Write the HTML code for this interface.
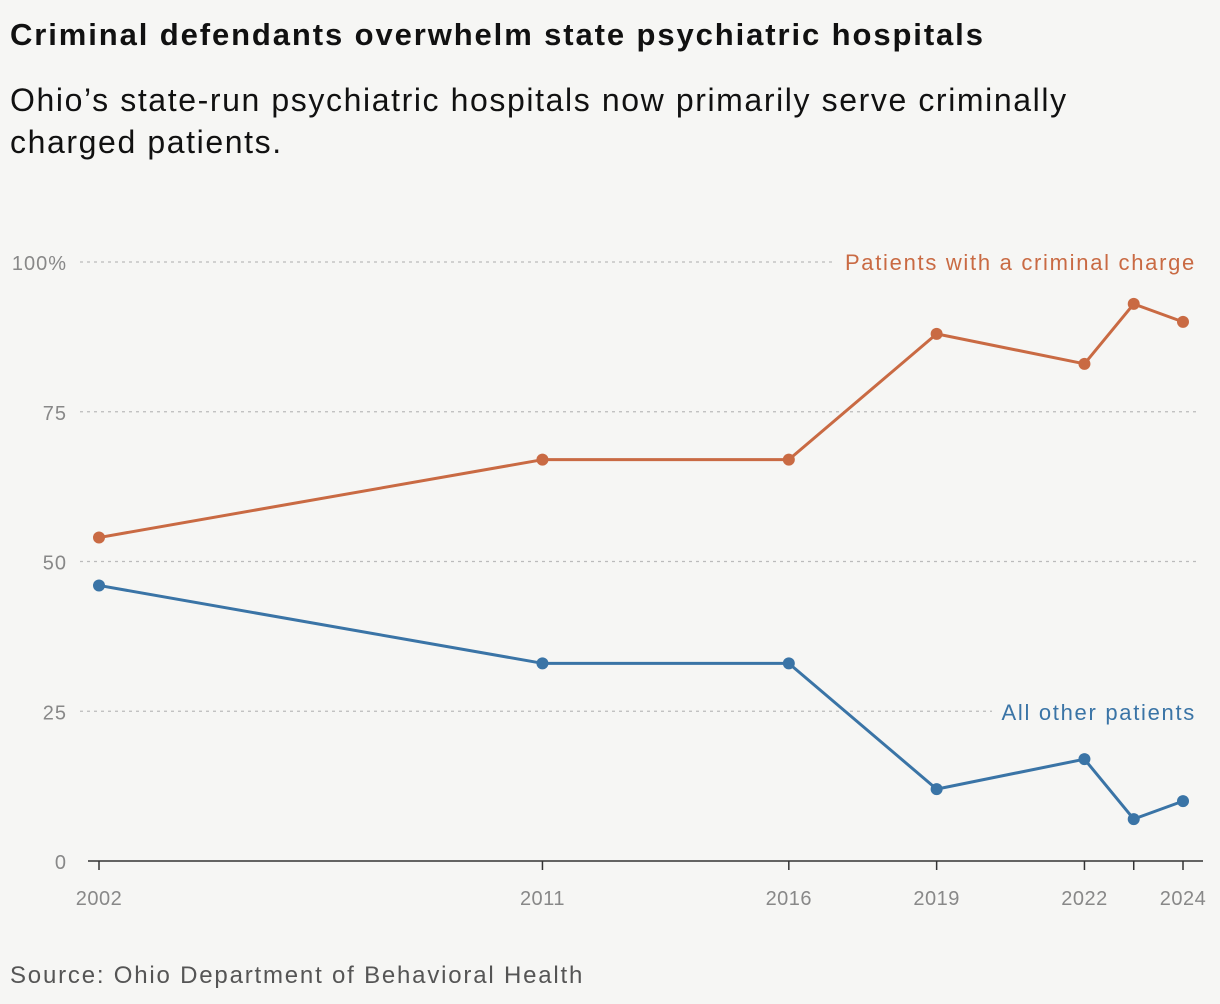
<!DOCTYPE html>
<html><head><meta charset="utf-8"><style>
body{margin:0;background:#f6f6f4;width:1220px;height:1004px;overflow:hidden;font-family:"Liberation Sans",sans-serif}
.t{position:absolute;left:10px;top:17px;font-size:31px;letter-spacing:1.9px;font-weight:bold;color:#111;white-space:nowrap}
.s{position:absolute;left:10px;top:79px;font-size:32px;letter-spacing:1.6px;line-height:42px;color:#111;width:1150px}
.src{position:absolute;left:10px;top:962px;font-size:24px;letter-spacing:1.8px;color:#555}
svg{position:absolute;left:0;top:0}
</style></head><body>
<div class="t">Criminal defendants overwhelm state psychiatric hospitals</div>
<div class="s">Ohio’s state-run psychiatric hospitals now primarily serve criminally<br>charged patients.</div>
<div class="src">Source: Ohio Department of Behavioral Health</div>
<svg id="c" width="1220" height="1004"></svg>
<script>
const years=[2002,2011,2016,2019,2022,2023,2024];
const xLabels=["2002","2011","2016","2019","2022","","2024"];
const criminal=[54,67,67,88,83,93,90];
const others=[46,33,33,12,17,7,10];
const yTicks=[0,25,50,75,100];
const yLabels=["0","25","50","75","100%"];
const svg=document.getElementById('c');
const NS='http://www.w3.org/2000/svg';
const x=y=>99+(y-2002)*(1183-99)/22;
const yy=v=>861-v*5.99;
function el(t,a,p){const e=document.createElementNS(NS,t);for(const k in a)e.setAttribute(k,a[k]);(p||svg).appendChild(e);return e;}
yTicks.forEach((t,i)=>{
 if(t>0){const g=el('line',{x1:80,x2:1200,y1:yy(t),y2:yy(t),stroke:'#bbb','stroke-width':1.2,'stroke-dasharray':'3,4'});
 
 }
 const l=el('text',{x:67,y:yy(t)+8,'text-anchor':'end','font-size':20,'letter-spacing':1,fill:'#888','font-family':'Liberation Sans, sans-serif'});
 l.textContent=yLabels[i];
 
 
});
const ax=el('line',{x1:88,x2:1203,y1:861,y2:861,stroke:'#333','stroke-width':1.5});


years.forEach((yr,i)=>{
 const tk=el('line',{x1:x(yr),x2:x(yr),y1:861,y2:870,stroke:'#333','stroke-width':1.5});
 
 
 if(xLabels[i]){const l=el('text',{x:x(yr),y:905,'text-anchor':'middle','font-size':20,'letter-spacing':0.5,fill:'#888','font-family':'Liberation Sans, sans-serif'});
 l.textContent=xLabels[i];
 
 }
});
function series(vals,color,name){
 const p=el('polyline',{points:vals.map((v,i)=>x(years[i])+','+yy(v)).join(' '),fill:'none',stroke:color,'stroke-width':3,'stroke-linejoin':'round'});
 
 
 vals.forEach((v,i)=>{const c=el('circle',{cx:x(years[i]),cy:yy(v),r:6,fill:color});
 
 });
}
series(criminal,'#c96a43','criminal');
series(others,'#3a74a6','other');
[['Patients with a criminal charge',270,'#c96a43','legend-criminal',834],['All other patients',720,'#3a74a6','legend-other',992]].forEach(d=>{
 const r=el('rect',{x:d[4],y:d[1]-22,width:1205-d[4],height:30,fill:'#f6f6f4'});
 
 
 const t=el('text',{x:1196,y:d[1],'text-anchor':'end','font-size':22,'letter-spacing':1.7,fill:d[2],'font-family':'Liberation Sans, sans-serif'});
 t.textContent=d[0];
 
 
});
</script>
</body></html>
